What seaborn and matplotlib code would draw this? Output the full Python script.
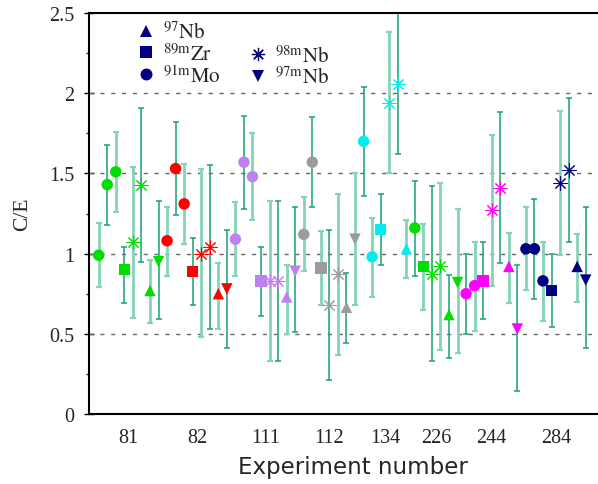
import numpy as np
import pandas as pd
import matplotlib
matplotlib.use("Agg")
import matplotlib.pyplot as plt
from matplotlib.lines import Line2D
from matplotlib.ticker import MultipleLocator, FixedLocator, FixedFormatter
import seaborn as sns

# ---------------- data ----------------
experiment = (["81"] * 8 + ["82"] * 8 + ["111"] * 8 + ["112"] * 7 +
              ["134"] * 6 + ["226"] * 6 + ["244"] * 7 + ["284"] * 8)
nuclide = (["Mo", "Mo", "Mo", "Zr", "Nb98m", "Nb98m", "Nb97", "Nb97m"] +
           ["Mo", "Mo", "Mo", "Zr", "Nb98m", "Nb98m", "Nb97", "Nb97m"] +
           ["Mo", "Mo", "Mo", "Zr", "Nb98m", "Nb98m", "Nb97", "Nb97m"] +
           ["Mo", "Mo", "Zr", "Nb98m", "Nb98m", "Nb97", "Nb97m"] +
           ["Mo", "Mo", "Zr", "Nb98m", "Nb98m", "Nb97"] +
           ["Mo", "Zr", "Nb98m", "Nb98m", "Nb97", "Nb97m"] +
           ["Mo", "Mo", "Zr", "Nb98m", "Nb98m", "Nb97", "Nb97m"] +
           ["Mo", "Mo", "Mo", "Zr", "Nb98m", "Nb98m", "Nb97", "Nb97m"])
ce = [0.99, 1.43, 1.51, 0.90, 1.07, 1.43, 0.77, 0.95,
      1.08, 1.53, 1.31, 0.89, 1.00, 1.04, 0.75, 0.78,
      1.09, 1.57, 1.48, 0.83, 0.83, 0.83, 0.73, 0.89,
      1.12, 1.57, 0.91, 0.68, 0.87, 0.665, 1.09,
      1.70, 0.98, 1.15, 1.94, 2.06, 1.03,
      1.16, 0.92, 0.87, 0.92, 0.62, 0.82,
      0.75, 0.80, 0.83, 1.27, 1.41, 0.92, 0.53,
      1.03, 1.03, 0.83, 0.77, 1.44, 1.52, 0.92, 0.835]
ce_lo = [0.79, 1.18, 1.26, 0.69, 0.60, 0.95, 0.57, 0.59,
         0.86, 1.24, 1.06, 0.68, 0.48, 0.53, 0.53, 0.41,
         0.86, 1.28, 1.21, 0.61, 0.33, 0.33, 0.50, 0.51,
         0.89, 1.29, 0.68, 0.21, 0.37, 0.44, 0.68,
         1.36, 0.73, 0.93, 1.50, 1.62, 0.85,
         0.86, 0.65, 0.33, 0.40, 0.35, 0.38,
         0.50, 0.52, 0.59, 0.80, 0.94, 0.69, 0.145,
         0.77, 0.72, 0.58, 0.54, 0.99, 1.07, 0.70, 0.41]
ce_hi = [1.19, 1.68, 1.76, 1.04, 1.54, 1.91, 0.96, 1.33,
         1.29, 1.82, 1.56, 1.10, 1.53, 1.55, 0.94, 1.15,
         1.32, 1.86, 1.75, 1.04, 1.33, 1.33, 0.93, 1.29,
         1.35, 1.85, 1.14, 1.15, 1.37, 0.88, 1.50,
         2.04, 1.22, 1.37, 2.38, 2.52, 1.21,
         1.455, 1.185, 1.42, 1.44, 0.865, 1.28,
         1.00, 1.07, 1.07, 1.74, 1.88, 1.13, 0.93,
         1.29, 1.34, 1.07, 1.00, 1.89, 1.97, 1.12, 1.29]

exp_labels = ["81", "82", "111", "112", "134", "226", "244", "284"]
exp_colors = {"81": "#00dd00", "82": "#ff0000", "111": "#bf80f2",
              "112": "#9c9c9c", "134": "#00eeee", "226": "#00dd00",
              "244": "#ff00ff", "284": "#000080"}
nuc_markers = {"Mo": "o", "Zr": "s", "Nb97": "^", "Nb97m": "v"}
legend_left = [("Nb97", "^", r"$^{97}\mathrm{Nb}$"),
               ("Zr", "s", r"$^{89\mathrm{m}}\mathrm{Zr}$"),
               ("Mo", "o", r"$^{91\mathrm{m}}\mathrm{Mo}$")]
legend_right = [("Nb98m", (8, 2, 0), r"$^{98\mathrm{m}}\mathrm{Nb}$"),
                ("Nb97m", "v", r"$^{97\mathrm{m}}\mathrm{Nb}$")]
y_tick_vals = [0, 0.5, 1, 1.5, 2, 2.5]
y_tick_txt = ["0", "0.5", "1", "1.5", "2", "2.5"]

df = pd.DataFrame({"experiment": experiment, "nuclide": nuclide,
                   "ce": ce, "lo": ce_lo, "hi": ce_hi})
df["pos"] = np.arange(len(df))

# ---------------- style ----------------
sns.set_style("white")
plt.rcParams["font.family"] = ["Liberation Serif", "DejaVu Serif"]
plt.rcParams["mathtext.fontset"] = "stix"

fig = plt.figure(figsize=(5.98, 4.85), dpi=100)
W, H = 598, 485
ax_l, ax_r, ax_b, ax_t = 89, 617, 415, 14
ax = fig.add_axes([ax_l / W, (H - ax_b) / H, (ax_r - ax_l) / W, (ax_b - ax_t) / H])

# error bars, alternating light/dark
light_c, dark_c = "#84d4b8", "#18a078"
for i, row in df.iterrows():
    light = (i % 2 == 0)
    ax.errorbar(row["pos"], row["ce"],
                yerr=[[row["ce"] - row["lo"]], [row["hi"] - row["ce"]]],
                fmt="none", ecolor=light_c if light else dark_c,
                elinewidth=2.0 if light else 1.1,
                capsize=2.3, capthick=1.6 if light else 1.1, zorder=2)

filled = df[df["nuclide"] != "Nb98m"]
stars = df[df["nuclide"] == "Nb98m"]
sns.scatterplot(data=filled, x="pos", y="ce", hue="experiment", style="nuclide",
                palette=exp_colors, markers=nuc_markers, s=68, linewidth=0,
                legend=False, ax=ax, zorder=3)
for exp in exp_labels:
    sub = stars[stars["experiment"] == exp]
    if len(sub):
        sns.scatterplot(data=sub, x="pos", y="ce", color=exp_colors[exp],
                        marker=(8, 2, 0), s=90, linewidth=0.75,
                        legend=False, ax=ax, zorder=3)

# ---------------- axes ----------------
ax.set_ylim(0, 2.5)
unit = 8.544
ax.set_xlim(-(98.7 - ax_l) / unit, (ax_r - 98.7) / unit)

centers = [df.loc[df["experiment"] == e, "pos"].mean() for e in exp_labels]
ax.xaxis.set_major_locator(FixedLocator(centers))
ax.xaxis.set_major_formatter(FixedFormatter(exp_labels))
ax.yaxis.set_major_locator(FixedLocator(y_tick_vals))
ax.yaxis.set_major_formatter(FixedFormatter(y_tick_txt))
ax.yaxis.set_minor_locator(MultipleLocator(0.25))

ax.tick_params(axis="x", which="major", direction="in", length=8, width=1,
               labelsize=14.5, pad=10, color="black")
ax.tick_params(axis="y", which="major", direction="inout", length=7.5, width=1,
               labelsize=14.5, pad=7, color="black", left=True)
ax.tick_params(axis="y", which="minor", direction="out", length=2, width=1,
               left=True)

for side in ["left", "bottom", "top", "right"]:
    ax.spines[side].set_linewidth(1.5)
    ax.spines[side].set_color("black")

for yv in [0.5, 1.0, 1.5, 2.0]:
    ax.axhline(yv, color="#666666", lw=1.0, ls=(0, (3, 4.8)), zorder=1)

ax.set_xlabel("Experiment number", fontsize=16.5, family="DejaVu Sans")
ax.set_ylabel("C/E", fontsize=15.5, labelpad=12)
ax.xaxis.set_label_coords((353 - ax_l) / (ax_r - ax_l), -(468 - ax_b) / (ax_b - ax_t),
                          transform=ax.transAxes)
ax.xaxis.label.set_va("center")

# ---------------- legends ----------------
def handles_for(entries):
    return [Line2D([], [], ls="none", marker=m, color="#000080",
                   markersize=8.6 if m != (8, 2, 0) else 9.5,
                   markeredgewidth=0 if m != (8, 2, 0) else 0.9) for _, m, _ in entries]

leg_kw = dict(loc="upper left", frameon=False, fontsize=15, handlelength=1.0,
              handletextpad=0.3, borderpad=0, borderaxespad=0, labelspacing=0.02)
leg1 = ax.legend(handles_for(legend_left), [t for _, _, t in legend_left],
                 bbox_to_anchor=((136 - ax_l) / (ax_r - ax_l), 0.979), **leg_kw)
ax.add_artist(leg1)
leg2 = ax.legend(handles_for(legend_right), [t for _, _, t in legend_right],
                 bbox_to_anchor=((248 - ax_l) / (ax_r - ax_l), 0.920), **leg_kw)

fig.savefig("out.png", dpi=100)
